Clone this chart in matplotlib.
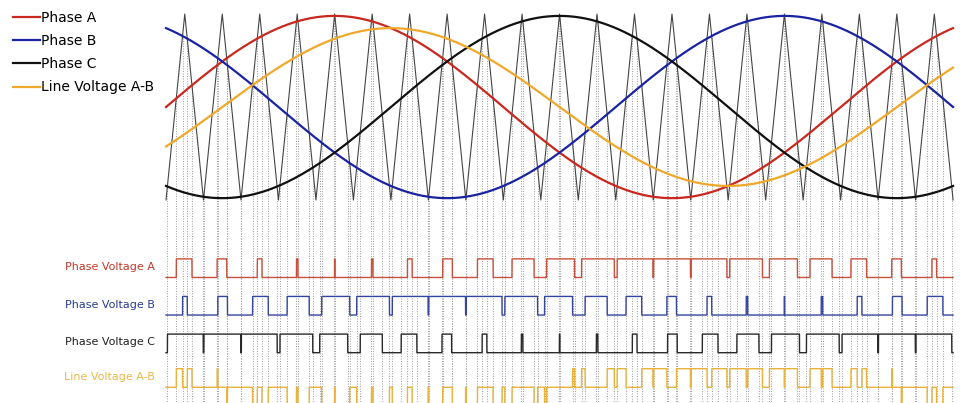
import numpy as np
import matplotlib.pyplot as plt

# reference sine waves (degrees of the fundamental)
phase_names = ["Phase A", "Phase B", "Phase C"]
phase_shift_deg = [0, 120, -120]
phase_colors = ["#c8281e", "#1a23a0", "#111111"]
line_name = "Line Voltage A-B"
line_color = "#f0a82a"
mod_amplitude = 0.98

# triangular carrier: 21 periods, one every 20 degrees of the fundamental
carrier_x = np.arange(0, 421, 10)
carrier_y = np.where(np.arange(len(carrier_x)) % 2 == 0, -1.0, 1.0)

# switched outputs below the waves
pulse_labels = ["Phase Voltage A", "Phase Voltage B", "Phase Voltage C", "Line Voltage A-B"]
pulse_colors = ["#c8503c", "#34459e", "#2a2a2a", "#e8b23c"]
pulse_label_colors = ["#c0392b", "#2b3a8f", "#222222", "#e8b84a"]

fig = plt.figure(figsize=(9.6, 4.03), dpi=100)
ax = fig.add_axes([0, 0, 1, 1])
ax.set_xlim(-88.6, 423.7)
ax.set_ylim(-3.183, 1.151)
ax.axis("off")

theta = np.linspace(0, 420, 84001)
carrier = np.interp(theta, carrier_x, carrier_y)
sines = [mod_amplitude * np.sin(np.radians(theta + s)) for s in phase_shift_deg]
line_ab = (sines[0] - sines[1]) / 2

# carrier
ax.plot(carrier_x, carrier_y, color="#444444", lw=0.8, zorder=2)

# pulses: high while the carrier is above the reference
pulses = [(carrier > s).astype(float) for s in sines]
pulses.append(pulses[0] - pulses[1])

levels = [-1.833, -2.237, -2.642, -3.014]
height = 0.2
bottom = -3.3

# dotted guides from each crossing down through the pulse trains
for s, p in zip(sines, pulses[:3]):
    idx = np.nonzero(np.diff(p))[0]
    ax.vlines(theta[idx], bottom, s[idx], colors="#a6a6a6",
              linestyles=(0, (1.0, 1.4)), lw=0.75, zorder=1)

# sine waves
handles = []
for s, name, c in zip(sines, phase_names, phase_colors):
    h, = ax.plot(theta, s, color=c, lw=1.6, label=name, zorder=3)
    handles.append(h)
h, = ax.plot(theta, line_ab, color=line_color, lw=1.6, label=line_name, zorder=3)
handles.append(h)

for p, lev, c, lab, lc in zip(pulses, levels, pulse_colors, pulse_labels, pulse_label_colors):
    ax.plot(theta, lev + height * p, color=c, lw=1.0, zorder=3)
    ax.text(-6, lev + height / 2 + 0.01, lab, ha="right", va="center",
            fontsize=8, color=lc)

ax.legend(handles=handles, loc="upper left", bbox_to_anchor=(13 / 960, 1 - 11 / 403),
          frameon=False, fontsize=10, handlelength=1.95, handletextpad=0.1,
          labelspacing=0.66, borderaxespad=0, borderpad=0)

fig.savefig("out.png", dpi=100)
